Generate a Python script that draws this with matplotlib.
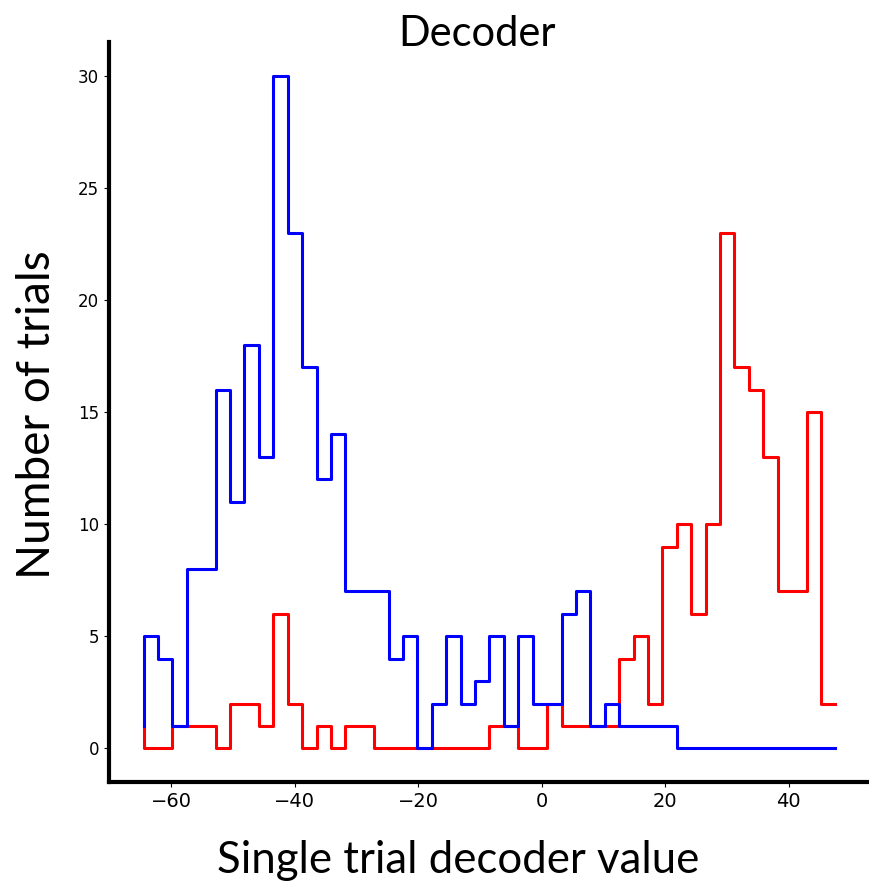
import numpy as np
import matplotlib
import matplotlib.pyplot as plt

matplotlib.use('Agg')

# histogram bins (shared by both classes)
bin_lo = -64.47
bin_hi = 47.57
n_bins = 48

# counts per bin
blue_counts = [5, 4, 1, 8, 8, 16, 11, 18, 13, 30, 23, 17, 12, 14, 7, 7,
               7, 4, 5, 0, 2, 5, 2, 3, 5, 1, 5, 2, 2, 6, 7, 1,
               2, 1, 1, 1, 1, 0, 0, 0, 0, 0, 0, 0, 0, 0, 0, 0]
red_counts = [0, 0, 1, 1, 1, 0, 2, 2, 1, 6, 2, 0, 1, 0, 1, 1,
              0, 0, 0, 0, 0, 0, 0, 0, 1, 1, 0, 0, 2, 1, 1, 1,
              1, 4, 5, 2, 9, 10, 6, 10, 23, 17, 16, 13, 7, 7, 15, 2]
start_value = 1

edges = np.linspace(bin_lo, bin_hi, n_bins + 1)

fig = plt.figure(figsize=(8.69, 8.84), dpi=100)
ax = fig.add_axes([0.1254, 0.1154, 0.8757, 0.837])

ax.step(edges, [start_value] + red_counts, where='pre', color='red', lw=2.2)
ax.step(edges, [start_value] + blue_counts, where='pre', color='blue', lw=2.2)

ax.spines['top'].set_visible(False)
ax.spines['right'].set_visible(False)
ax.spines['left'].set_linewidth(3)
ax.spines['bottom'].set_linewidth(3)
ax.tick_params(axis='x', labelsize=14)
ax.tick_params(axis='y', labelsize=12)

ax.set_title('Decoder', fontsize=30, family='Lato', x=0.483, y=0.995, pad=0)
ax.set_xlabel('Single trial decoder value', fontsize=31.5, family='Lato', va='baseline')
ax.xaxis.set_label_coords(0.4586, -0.1226)
ax.set_ylabel('Number of trials', fontsize=33, family='Lato', va='baseline')
ax.yaxis.set_label_coords(-0.077, 0.497)

fig.savefig('out.png')
